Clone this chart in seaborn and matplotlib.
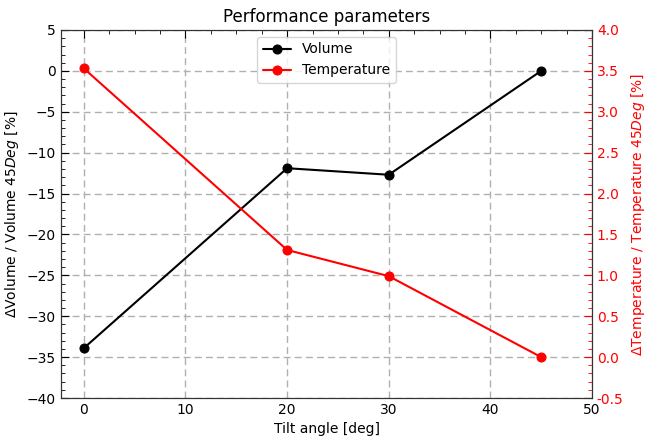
import matplotlib
matplotlib.use("Agg")
import matplotlib.pyplot as plt
import seaborn as sns
import pandas as pd
from matplotlib.ticker import AutoMinorLocator

tilt = [0, 20, 30, 45]
volume = [-33.9, -11.9, -12.7, 0.0]
temperature = [3.53, 1.31, 0.99, 0.0]

sns.set_style("white")
plt.rcParams['font.family'] = ['DejaVu Sans']
plt.rcParams['text.color'] = 'black'
plt.rcParams['axes.labelcolor'] = 'black'
plt.rcParams['xtick.color'] = 'black'
plt.rcParams['ytick.color'] = 'black'

df = pd.DataFrame({"tilt": tilt, "volume": volume, "temperature": temperature})

fig = plt.figure(figsize=(6.46, 4.36), dpi=100)
ax = fig.add_axes([61/646, 1-398/436, (592-61)/646, (398-30)/436])
ax2 = ax.twinx()

sns.lineplot(data=df, x="tilt", y="volume", ax=ax, color="black", marker="o",
             markersize=6.5, markeredgecolor="black", linewidth=1.5,
             label="Volume", legend=False)
sns.lineplot(data=df, x="tilt", y="temperature", ax=ax2, color="red", marker="o",
             markersize=6.5, markeredgecolor="red", linewidth=1.5,
             label="Temperature", legend=False)

ax.set_xlim(-2.25, 50)
ax.set_ylim(-40, 5)
ax2.set_ylim(-0.5, 4.0)
ax.set_xticks([0, 10, 20, 30, 40, 50])
ax.set_yticks(range(-40, 6, 5))
ax2.set_yticks([-0.5 + 0.5 * i for i in range(10)])
ax2.set_yticklabels([f"{-0.5 + 0.5 * i:.1f}" for i in range(10)])

ax.grid(True, linestyle=(0, (5, 3)), color="#b0b0b0", linewidth=1)
ax.set_axisbelow(True)

ax.xaxis.set_minor_locator(AutoMinorLocator(4))
ax.yaxis.set_minor_locator(AutoMinorLocator(5))
ax2.yaxis.set_minor_locator(AutoMinorLocator(5))

ax.tick_params(axis="both", which="major", direction="in", length=6, top=True,
               labelsize=10, colors="black")
ax.tick_params(axis="both", which="minor", direction="in", length=3, top=True)
ax.tick_params(axis="y", which="both", right=False)
ax2.tick_params(axis="y", which="major", direction="in", length=6, colors="red",
                labelsize=10)
ax2.tick_params(axis="y", which="minor", direction="in", length=3, colors="red")

for sp in ax.spines.values():
    sp.set_color("#333333")
for sp in ax2.spines.values():
    sp.set_color("#333333")

ax.set_xlabel("Tilt angle [deg]", fontsize=10, color="black")
ax.set_ylabel(r"$\Delta$Volume / Volume $45Deg$ [%]", fontsize=10, color="black")
ax2.set_ylabel(r"$\Delta$Temperature / Temperature $45Deg$ [%]", fontsize=10, color="red")
ax.set_title("Performance parameters", fontsize=12, color="black")

h1, l1 = ax.get_legend_handles_labels()
h2, l2 = ax2.get_legend_handles_labels()
ax2.legend(h1 + h2, l1 + l2, loc="upper center", fontsize=10, frameon=True)

fig.savefig("out.png", dpi=100)
